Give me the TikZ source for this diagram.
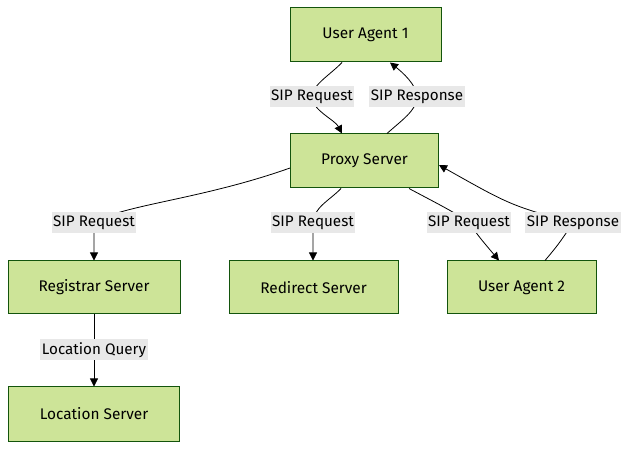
\documentclass[tikz,border=0pt]{standalone}
\usepackage{fontspec}
\setmainfont{Fira Sans}
\usetikzlibrary{arrows.meta}
\definecolor{nodefill}{HTML}{CDE498}
\definecolor{nodeborder}{HTML}{13540C}
\definecolor{labelbg}{HTML}{E8E8E8}
\begin{document}
\begin{tikzpicture}[x=1pt,y=-1pt,
  box/.style={draw=nodeborder,fill=nodefill,line width=1pt,minimum height=54pt,inner sep=0pt,font=\fontsize{15.4}{17}\selectfont},
  elabel/.style={fill=labelbg,inner sep=0pt,inner xsep=1.5pt,minimum height=21pt,font=\fontsize{15.2}{17}\selectfont},
  edge/.style={draw=black,line width=0.8pt},
  arr/.style={-{Triangle[length=8pt,width=8pt]}}]
\useasboundingbox (0,0) rectangle (635,454);
% nodes
\node[box,minimum width=151pt] (ua1) at (365.5,35) {User Agent 1};
\node[box,minimum width=148pt] (px) at (364.5,161) {Proxy Server};
\node[box,minimum width=172pt,minimum height=53pt] (reg) at (94,287.5) {Registrar Server};
\node[box,minimum width=169pt,minimum height=53pt] (red) at (313.5,287.5) {Redirect Server};
\node[box,minimum width=149pt,minimum height=53pt] (ua2) at (521.5,287.5) {User Agent 2};
\node[box,minimum width=171pt] (loc) at (94,414) {Location Server};
% label anchor coordinates
\coordinate (c1) at (312,97);
\coordinate (c2) at (417,97);
\coordinate (c3) at (94,223);
\coordinate (c4) at (313,223);
\coordinate (c5) at (469,223);
\coordinate (c6) at (573,223);
\coordinate (c7) at (94,350);
% edges
\draw[edge,arr] ([xshift=-23.5pt]ua1.south) .. controls (330,75) and (312,85) .. (c1)
   .. controls (312,110) and (335,120) .. ([xshift=-22.5pt]px.north);
\draw[edge,arr] ([xshift=22.5pt]px.north) .. controls (402,120) and (417,110) .. (c2)
   .. controls (417,85) and (402,72) .. ([xshift=24.5pt]ua1.south);
\draw[edge,arr] ([yshift=-7pt]px.west) .. controls (200,200) and (120,205) .. (c3)
   .. controls (94,238) .. (reg.north);
\draw[edge,arr] ([xshift=-23.5pt]px.south) .. controls (330,200) and (313,208) .. (c4)
   -- (red.north -| c4);
\draw[edge,arr] ([xshift=44.5pt]px.south) .. controls (440,205) and (460,215) .. (c5)
   .. controls (480,238) .. ([xshift=-22.5pt]ua2.north);
\draw[edge,arr] ([xshift=23.5pt]ua2.north) .. controls (558,245) .. (c6)
   .. controls (510,205) .. ([yshift=-4pt]px.east);
\draw[edge,arr] (reg.south) -- (loc.north);
% labels
\node[elabel] (l1) at (c1) {SIP Request};
\node[elabel] (l2) at (c2) {SIP Response};
\node[elabel] (l3) at (c3) {SIP Request};
\node[elabel] (l4) at (c4) {SIP Request};
\node[elabel] (l5) at (c5) {SIP Request};
\node[elabel] (l6) at (c6) {SIP Response};
\node[elabel] (l7) at (c7) {Location Query};
\end{tikzpicture}
\end{document}
